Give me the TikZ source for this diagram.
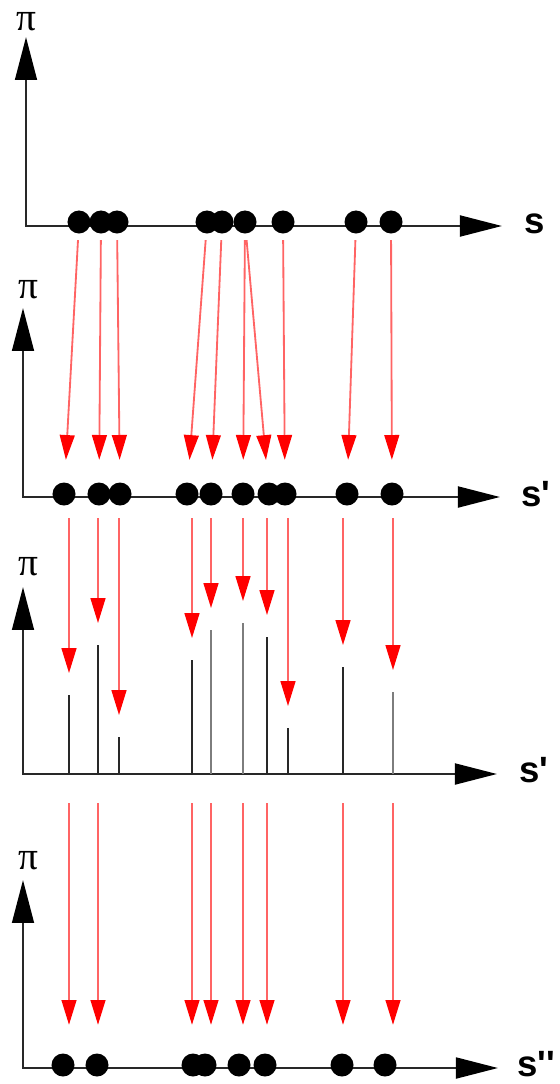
\documentclass[tikz,border=0pt]{standalone}
\usepackage{fontspec}
\newfontfamily\labelfont{Liberation Sans}
\newfontfamily\greekfont{Liberation Serif}
\usetikzlibrary{arrows.meta,calc}
\definecolor{AxisGray}{RGB}{40,40,40}
\definecolor{SpikeLight}{RGB}{125,125,125}
\definecolor{FlowRed}{RGB}{255,100,100}
\definecolor{HeadRed}{RGB}{255,0,0}
\tikzset{
  axes/.style={line width=1.8pt, AxisGray,
    {Triangle[length=1.07cm,width=0.54cm,color=black]}-{Triangle[length=1.05cm,width=0.52cm,color=black]}},
  dot/.style={circle, fill=black, inner sep=0pt, minimum size=0.575cm},
  spike/.style={line width=1.9pt},
  flow/.style={line width=1.3pt, FlowRed,
    -{Triangle[length=0.62cm,width=0.37cm,color=HeadRed]}},
  pilabel/.style={font=\greekfont\fontsize{28}{28}\selectfont, inner sep=0pt},
  slabel/.style={font=\labelfont\bfseries\fontsize{26}{26}\selectfont,
    anchor=base west, inner sep=0pt},
}

\begin{document}
\begin{tikzpicture}[x=0.025cm, y=-0.025cm]
\useasboundingbox (0,0) rectangle (559,1084);

% first row: points on s
\draw[axes] (26,37) -- (26,226) -- (502,226);
\node[pilabel] (pi1) at (26,22) {π};
\node[slabel] (s1) at (524,233) {s};
\foreach \x [count=\i] in {79,101,117,207,222,245,283,356,391}
  \node[dot] (a\i) at (\x,222) {};

% second row: points on s'
\draw[axes] (23,308) -- (23,497) -- (500,497);
\node[pilabel] (pi2) at (28,290) {π};
\node[slabel] (s2) at (521,506) {s'};
\foreach \x [count=\i] in {64,99,120,187,211,243,269,285,347,392}
  \node[dot] (b\i) at (\x,494) {};
\foreach \i/\j in {1/1,2/2,3/3,4/4,5/5,6/6,6/7,7/8,8/9,9/10}
  \draw[flow, shorten <=0.16cm, shorten >=0.56cm] (a\i) -- (b\j);

% third row: values over s'
\draw[axes] (23,587) -- (23,774) -- (497,774);
\coordinate (o3) at (23,774);
\node[pilabel] (pi3) at (28,567) {π};
\node[slabel] (s3) at (519,782) {s'};
\foreach \x/\h/\c [count=\i] in {69/695/AxisGray,98/645/AxisGray,119/737/AxisGray,
    192/660/AxisGray,211/630/SpikeLight,243/623/SpikeLight,267/637/AxisGray,
    288/728/AxisGray,343/667/AxisGray,393/692/SpikeLight}{
  \coordinate (c\i) at (\x,\h);
  \draw[spike, \c] (c\i) -- (c\i |- o3);
}
\foreach \i in {1,...,10}
  \draw[flow, shorten <=0.31cm, shorten >=0.55cm] (c\i |- b\i.south) -- (c\i);

% fourth row: points on s''
\draw[axes] (23,880) -- (23,1068) -- (498,1068);
\node[pilabel] (pi4) at (28,861) {π};
\node[slabel] (s4) at (517,1076) {s''};
\foreach \x [count=\i] in {63,97,193,205,239,265,342,385}
  \node[dot] (d\i) at (\x,1065) {};
\foreach \i/\j in {1/1,2/2,4/3,5/4,6/5,7/6,9/7,10/8}
  \draw[flow, shorten <=0.725cm, shorten >=0.71cm] (c\i |- o3) -- (c\i |- d\j.north);
\end{tikzpicture}
\end{document}
